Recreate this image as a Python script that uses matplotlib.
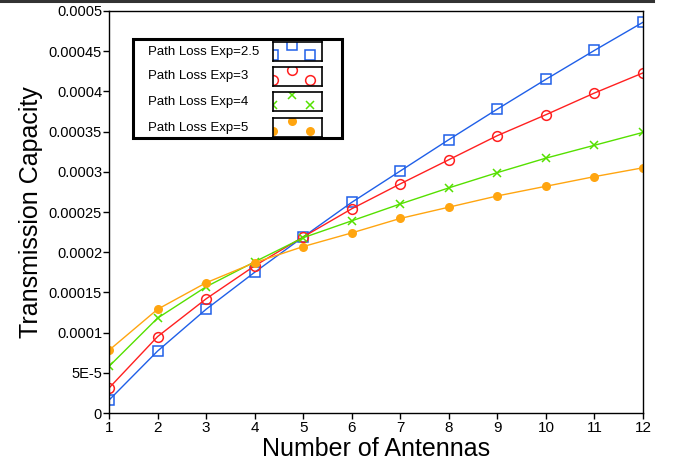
import matplotlib
matplotlib.use("Agg")
import matplotlib.pyplot as plt
from matplotlib.lines import Line2D
from matplotlib.patches import Rectangle
from matplotlib import font_manager

names = {f.name for f in font_manager.fontManager.ttflist}
narrow = "Liberation Sans Narrow" if "Liberation Sans Narrow" in names else "Liberation Sans"
plt.rcParams['font.family'] = ['Liberation Sans', 'DejaVu Sans']

antennas = [1, 2, 3, 4, 5, 6, 7, 8, 9, 10, 11, 12]
exp_2_5 = [1.6e-5, 7.7e-5, 1.29e-4, 1.75e-4, 2.19e-4, 2.62e-4, 3.01e-4, 3.40e-4, 3.78e-4, 4.15e-4, 4.51e-4, 4.86e-4]
exp_3 = [3.1e-5, 9.5e-5, 1.42e-4, 1.83e-4, 2.19e-4, 2.54e-4, 2.85e-4, 3.15e-4, 3.45e-4, 3.71e-4, 3.98e-4, 4.23e-4]
exp_4 = [5.8e-5, 1.18e-4, 1.57e-4, 1.88e-4, 2.18e-4, 2.39e-4, 2.60e-4, 2.80e-4, 2.99e-4, 3.17e-4, 3.33e-4, 3.49e-4]
exp_5 = [7.8e-5, 1.29e-4, 1.62e-4, 1.87e-4, 2.07e-4, 2.24e-4, 2.42e-4, 2.56e-4, 2.70e-4, 2.82e-4, 2.94e-4, 3.05e-4]
series_labels = ["Path Loss Exp=2.5", "Path Loss Exp=3", "Path Loss Exp=4", "Path Loss Exp=5"]
yticks = [0, 5e-5, 1e-4, 1.5e-4, 2e-4, 2.5e-4, 3e-4, 3.5e-4, 4e-4, 4.5e-4, 5e-4]
ytick_labels = ["0", "5E-5", "0.0001", "0.00015", "0.0002", "0.00025", "0.0003", "0.00035", "0.0004", "0.00045", "0.0005"]

styles = [
    dict(color="#1f5fe8", marker="s", mfc="none", ms=6.5, mew=1.1),
    dict(color="#ff2020", marker="o", mfc="none", ms=7, mew=1.1),
    dict(color="#55e000", marker="x", ms=6, mew=1.1),
    dict(color="#ffa510", marker="o", ms=6.5, mew=0),
]
data = [exp_2_5, exp_3, exp_4, exp_5]

W, H = 674, 473
fig = plt.figure(figsize=(W / 100, H / 100), dpi=100)
L, R, T, B = 109, 643, 11, 413
ax = fig.add_axes([L / W, 1 - B / H, (R - L) / W, (B - T) / H])

for ys, st in zip(data, styles):
    ax.plot(antennas, ys, lw=1.0, clip_on=True, **st)

ax.set_xlim(1, 12)
ax.set_ylim(0, 5e-4)
ax.set_xticks(antennas)
ax.set_xticklabels([str(a) for a in antennas])
ax.set_yticks(yticks)
ax.set_yticklabels(ytick_labels)
ax.tick_params(direction="out", length=4, width=1, labelsize=10.5, pad=1)
ax.tick_params(axis="x", labelsize=11, pad=2)
for s in ax.spines.values():
    s.set_linewidth(1.0)
ax.set_xlabel("Number of Antennas", fontsize=18, family=narrow, labelpad=1)
ax.set_ylabel("Transmission Capacity", fontsize=18, family=narrow, labelpad=4)

# legend frame
fig.add_artist(Rectangle((133 / W, 1 - 138 / H), (342 - 133) / W, (138 - 39) / H,
                         transform=fig.transFigure, fill=False, lw=2.2, ec="black"))
rows = [(42, 61), (67, 86), (92, 111), (118, 137)]
for (y0, y1), lab, st in zip(rows, series_labels, styles):
    fig.text(148 / W, 1 - ((y0 + y1) / 2) / H, lab, fontsize=9.5, va="center", ha="left")
    lax = fig.add_axes([273 / W, 1 - y1 / H, (322 - 273) / W, (y1 - y0) / H])
    lax.set_xlim(0, 1)
    lax.set_ylim(0, 1)
    lax.set_xticks([])
    lax.set_yticks([])
    for s in lax.spines.values():
        s.set_linewidth(1.2)
    lax.plot([0.0, 0.39, 0.76], [0.32, 0.86, 0.32], ls="none", **st)

# top rule
fig.add_artist(Line2D([0, 653 / W], [1 - 1.5 / H, 1 - 1.5 / H], transform=fig.transFigure,
                      color="#333333", lw=2.2))

fig.savefig("out.png", dpi=100)
